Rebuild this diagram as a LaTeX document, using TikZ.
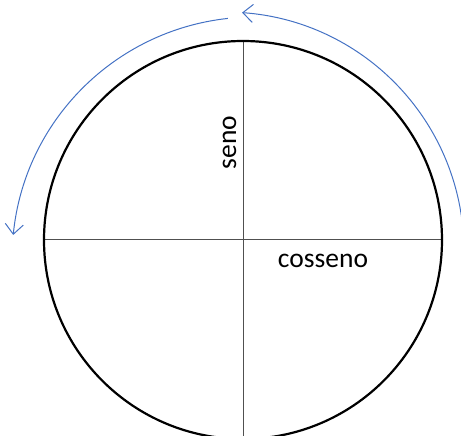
\documentclass[tikz,border=0pt]{standalone}
\usepackage{fontspec}
\setmainfont{Carlito}
\usepackage{xcolor}
\definecolor{cArc}{HTML}{4472C4}
\definecolor{cAxis}{HTML}{505050}
\usetikzlibrary{arrows.meta,calc}
\tikzset{
  circle-line/.style={draw=black,line width=2.2pt},
  axis-line/.style={draw=cAxis,line width=1pt},
  arrow-turn/.style={-{Straight Barb[length=10pt,width=18pt]},draw=cArc,line width=1pt},
  label-text/.style={font=\fontsize{27.5}{32}\selectfont,inner sep=0pt},
}

\begin{document}
\begin{tikzpicture}[x=1pt,y=1pt]
  \useasboundingbox (0,0) rectangle (461,436);
  \clip (0,0) rectangle (461,436);
  % unit circle and axes
  \coordinate (O) at (243,196);
  \coordinate (W) at ($(O)+(180:199)$);
  \coordinate (E) at ($(O)+(0:199)$);
  \coordinate (N) at ($(O)+(90:199)$);
  \coordinate (S) at ($(O)+(270:199)$);
  \draw[axis-line] (W) -- (E);
  \draw[axis-line] (N) -- (S);
  \draw[circle-line] (O) circle[radius=199];
  % direction of rotation
  \coordinate (cL) at (254,177);
  \coordinate (cR) at (225,185);
  \draw[arrow-turn] ($(cL)+(96.2:242)$) arc[start angle=96.2,end angle=174.3,radius=242];
  \draw[arrow-turn] ($(cR)+(8:239)$) arc[start angle=8,end angle=85.9,radius=239];
  \node[label-text,rotate=90,anchor=base] (seno) at (236,293.5) {seno};
  \node[label-text,anchor=base] (cosseno) at (323,168) {cosseno};
\end{tikzpicture}
\end{document}
